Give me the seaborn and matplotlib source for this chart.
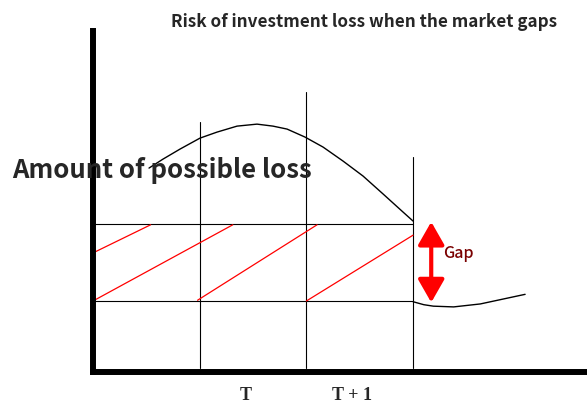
import numpy as np
import pandas as pd
import seaborn as sns
import matplotlib.pyplot as plt

# price path before and after the gap (x: time units, y: price level)
curve_x = [0.525, 0.656, 0.816, 1.003, 1.162, 1.35, 1.537, 1.687, 1.819, 1.987,
           2.156, 2.344, 2.531, 2.72, 2.906, 3.0]
curve_y = [2.757, 2.878, 3.014, 3.162, 3.243, 3.324, 3.351, 3.324, 3.284, 3.176,
           3.041, 2.851, 2.649, 2.405, 2.162, 2.04]
after_x = [3.00, 3.10, 3.19, 3.38, 3.63, 4.05]
after_y = [0.95, 0.91, 0.89, 0.88, 0.92, 1.05]

# vertical time markers and their top ends
time_x = [1.0, 2.0, 3.0]
time_top = [3.38, 3.78, 2.91]
# stop level lines
level_y = [0.96, 2.0]
# red hatch segments (x0, y0, x1, y1)
hatch_x0 = [0.0, 0.0, 0.98, 2.0]
hatch_y0 = [1.61, 0.96, 0.97, 0.96]
hatch_x1 = [0.54, 1.31, 2.10, 3.0]
hatch_y1 = [1.99, 1.99, 1.99, 1.85]

tick_pos = [1.43, 2.43]
tick_labels = ["T", "T + 1"]
gap_x = 3.17

sns.set_style("white")
plt.rcParams['font.family'] = ['Noto Sans CJK JP', 'DejaVu Sans']

fig = plt.figure(figsize=(5.87, 4.06), dpi=100)
ax = fig.add_axes([93 / 587, 33 / 406, 494 / 587, 341 / 406])

df1 = pd.DataFrame({"t": curve_x, "p": curve_y})
df2 = pd.DataFrame({"t": after_x, "p": after_y})
sns.lineplot(data=df1, x="t", y="p", color="black", lw=1.0, ax=ax, sort=False)
sns.lineplot(data=df2, x="t", y="p", color="black", lw=1.0, ax=ax, sort=False)

for x, top in zip(time_x, time_top):
    ax.plot([x, x], [0.05, top], color="black", lw=0.8)
for y in level_y:
    ax.plot([0, 3.0], [y, y], color="black", lw=0.8)
for a, b, c, d in zip(hatch_x0, hatch_y0, hatch_x1, hatch_y1):
    ax.plot([a, c], [b, d], color="red", lw=0.9)

ax.annotate("", xy=(gap_x, level_y[1] + 0.03), xytext=(gap_x, level_y[0] - 0.02),
            arrowprops=dict(arrowstyle="<|-|>,head_length=0.7,head_width=0.4",
                            color="red", lw=3, mutation_scale=20,
                            shrinkA=0, shrinkB=0))
ax.text(3.28, 1.61, "Gap", color="#7a0000", fontsize=11.5, fontweight="medium",
        va="center", ha="left")

ax.set_xlim(0, 4.63)
ax.set_ylim(0, 4.61)
ax.set_xticks(tick_pos)
ax.set_xticklabels(tick_labels, family="Liberation Serif", fontweight="bold", fontsize=13)
ax.set_yticks([])
ax.tick_params(axis="x", length=0, pad=10)
ax.set_xlabel("")
ax.set_ylabel("")
for s in ["top", "right"]:
    ax.spines[s].set_visible(False)
for s in ["left", "bottom"]:
    ax.spines[s].set_linewidth(4.3)
    ax.spines[s].set_color("black")

fig.text(364 / 587, 1 - 22 / 406, "Risk of investment loss when the market gaps",
         ha="center", va="center", fontsize=12.3, fontweight="bold")
fig.text(12 / 587, 1 - 170 / 406, "Amount of possible loss",
         ha="left", va="center", fontsize=18.5, fontweight="bold")

plt.savefig("out.png", dpi=100)
